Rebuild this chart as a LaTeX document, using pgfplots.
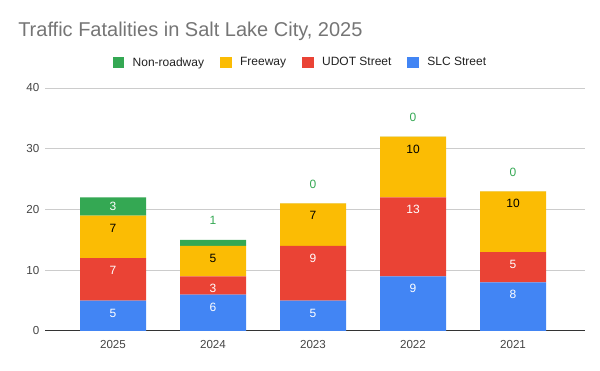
\documentclass[border=0pt]{standalone}
\usepackage{fontspec}
\setmainfont{Liberation Sans}
\usepackage{pgfplots}
\usepackage{pgfplotstable}
\pgfplotsset{compat=1.18}
\definecolor{cblue}{HTML}{4285F4}
\definecolor{cred}{HTML}{EA4335}
\definecolor{cyel}{HTML}{FBBC04}
\definecolor{cgreen}{HTML}{34A853}
\definecolor{titlegray}{HTML}{757575}
\definecolor{ticktext}{HTML}{444444}
\definecolor{gridc}{HTML}{CCCCCC}
\definecolor{axisc}{HTML}{333333}
\pgfplotstableread{
x slc udot fwy non gs gm
0 5 7 7 3 -6.75 0
1 6 3 5 1 14.5 100
2 5 9 7 0.0001 14.5 100
3 9 13 10 0.0001 14.5 100
4 8 5 10 0.0001 14.5 100
}\data
\begin{document}
\begin{tikzpicture}
\useasboundingbox (-33.75pt,-30pt) rectangle (416.25pt,248.25pt);
\begin{axis}[
 at={(0,0)}, anchor=south west,
 width=405pt, height=182.25pt, scale only axis,
 ybar stacked, bar width=0.66,
 xmin=-0.68, xmax=4.72, ymin=0, ymax=40,
 ytick={0,10,20,30,40},
 xtick={0,1,2,3,4}, xticklabels={2025,2024,2023,2022,2021},
 major tick length=0pt,
 axis x line*=bottom, axis y line*=left,
 x axis line style={draw=axisc, line width=0.75pt, -},
 y axis line style={draw=none},
 ymajorgrids, grid style={draw=gridc, line width=0.75pt},
 tick label style={font=\fontsize{8.7}{10}\selectfont, text=ticktext},
 /pgf/number format/assume math mode=true,
 yticklabel style={anchor=east, inner sep=0pt, xshift=-4pt},
 xticklabel style={anchor=center, inner sep=0pt, yshift=-10.2pt},
 nodes near coords style={font=\fontsize{9}{10}\selectfont, anchor=center},
 legend style={at={(0.1254,1.104)}, anchor=west, draw=none, fill=none,
   inner sep=0pt, outer sep=0pt, nodes={inner sep=0pt},
   font=\fontsize{9}{10}\selectfont, text=black!87, legend columns=4,
   /tikz/every odd column/.append style={column sep=6.2pt},
   /tikz/every even column/.append style={column sep=12pt}},
 legend image code/.code={\fill[#1] (0pt,-4.3pt) rectangle (8.8pt,4.3pt);},
]
\addplot[fill=cblue, draw=none, forget plot, point meta=explicit, nodes near coords,
  visualization depends on={\thisrow{slc}*2.278-9.3 \as \sh},
  every node near coord/.append style={text=white, yshift=\sh pt}]
  table[x=x, y=slc, meta=slc]{\data};
\addplot[fill=cred, draw=none, forget plot, point meta=explicit, nodes near coords,
  visualization depends on={\thisrow{udot}*2.278-9.3 \as \sh},
  every node near coord/.append style={text=white, yshift=\sh pt}]
  table[x=x, y=udot, meta=udot]{\data};
\addplot[fill=cyel, draw=none, forget plot, point meta=explicit, nodes near coords,
  visualization depends on={\thisrow{fwy}*2.278-9.3 \as \sh},
  every node near coord/.append style={text=black, yshift=\sh pt}]
  table[x=x, y=fwy, meta=fwy]{\data};
\addplot[fill=cgreen, draw=none, forget plot, point meta=explicit,
  visualization depends on={\thisrow{non}*2.278+\thisrow{gs} \as \sh},
  visualization depends on={\thisrow{gm} \as \gm},
  nodes near coords={\pgfmathprintnumber[fixed, precision=0]{\pgfplotspointmeta}},
  every node near coord/.append style={text=cgreen!\gm!white, yshift=\sh pt}]
  table[x=x, y=non, meta=non]{\data};
\addlegendimage{fill=cgreen, draw=none}\addlegendentry{Non-roadway}
\addlegendimage{fill=cyel, draw=none}\addlegendentry{Freeway}
\addlegendimage{fill=cred, draw=none}\addlegendentry{UDOT Street}
\addlegendimage{fill=cblue, draw=none}\addlegendentry{SLC Street}
\end{axis}
\node[anchor=base west, text=titlegray, font=\fontsize{15}{18}\selectfont, inner sep=0pt]
  at (-20.25pt,220.5pt) {Traffic Fatalities in Salt Lake City, 2025};
\end{tikzpicture}
\end{document}
